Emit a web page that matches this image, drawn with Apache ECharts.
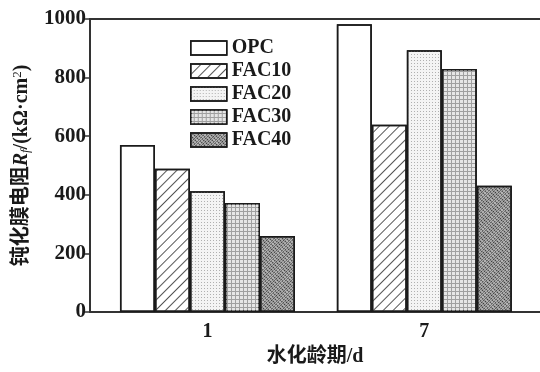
<!DOCTYPE html>
<html>
<head>
<meta charset="utf-8">
<script src="https://cdn.jsdelivr.net/npm/echarts@6/dist/echarts.min.js"></script>
<style>
  html, body { margin: 0; padding: 0; background: #fff; }
  #chart { width: 540px; height: 372px; }
</style>
</head>
<body>
<div id="chart"></div>
<script>
// Hydration age (days) and passive-film resistance Rf (kΩ·cm²)
const ages = [1, 7];
const seriesNames = ['OPC', 'FAC10', 'FAC20', 'FAC30', 'FAC40'];
const opc   = [570, 982];
const fac10 = [489, 639];
const fac20 = [412, 893];
const fac30 = [372, 829];
const fac40 = [259, 431];
const yTicks = [0, 200, 400, 600, 800, 1000];

const serif = '"Liberation Serif", "Times New Roman", "Noto Sans CJK SC", serif';
const ink = '#1a1a1a';

// Fill patterns for each mix
const patterns = {
  OPC:   { color: '#ffffff', decal: null },
  FAC10: { color: '#ffffff', decal: { symbol: 'rect', symbolSize: 1, dashArrayX: [1, 0], dashArrayY: [1, 6], rotation: -Math.PI / 4, color: '#555' } },
  FAC20: { color: '#f4f4f4', decal: { symbol: 'rect', symbolSize: 1, dashArrayX: [1, 2], dashArrayY: [1, 2], color: '#b0b0b0' } },
  FAC30: { color: '#a0a0a0', decal: { symbol: 'rect', symbolSize: 1, dashArrayX: [3, 1], dashArrayY: [3, 1], color: '#e6e6e6' } },
  FAC40: { color: '#b8b8b8', decal: { symbol: 'rect', symbolSize: 1, dashArrayX: [2, 1], dashArrayY: [1, 1], rotation: -Math.PI / 4, color: '#3a3a3a' } }
};

const values = [opc, fac10, fac20, fac30, fac40];

const series = seriesNames.map((name, i) => ({
  name,
  type: 'bar',
  barWidth: 35,
  barGap: '0%',
  data: ages.map((a, j) => [a, values[i][j]]),
  itemStyle: {
    color: patterns[name].color,
    borderColor: ink,
    borderWidth: 1.5,
    decal: patterns[name].decal || { symbol: 'none' }
  },
  emphasis: { disabled: true }
}));

const chart = echarts.init(document.getElementById('chart'), null, { renderer: 'canvas' });
chart.setOption({
  animation: false,
  backgroundColor: '#ffffff',
  aria: { enabled: false, decal: { show: false } },
  grid: { left: 90, top: 19, width: 452, height: 302 },
  legend: {
    orient: 'vertical',
    left: 185,
    top: 33,
    icon: 'rect',
    itemWidth: 36,
    itemHeight: 14,
    itemGap: 3,
    data: seriesNames,
    textStyle: { fontFamily: serif, fontWeight: 'bold', fontSize: 20, color: ink },
    itemStyle: { borderColor: ink, borderWidth: 1.5 }
  },
  xAxis: [{
    type: 'value',
    min: -2.25,
    max: 10.2,
    splitLine: { show: false },
    axisLine: { show: true, onZero: false, lineStyle: { color: '#333', width: 2 } },
    axisTick: { show: false },
    axisLabel: {
      customValues: ages,
      fontFamily: serif, fontWeight: 'bold', fontSize: 20, color: ink, margin: 10
    },
    name: '水化龄期/d',
    nameLocation: 'middle',
    nameGap: 35,
    nameTextStyle: { fontFamily: serif, fontWeight: 'bold', fontSize: 20, color: ink }
  }, {
    type: 'value',
    position: 'top',
    min: -2.25,
    max: 10.2,
    splitLine: { show: false },
    axisLine: { show: true, onZero: false, lineStyle: { color: '#333', width: 2 } },
    axisTick: { show: false },
    axisLabel: { show: false }
  }],
  yAxis: {
    type: 'value',
    min: yTicks[0],
    max: yTicks[yTicks.length - 1],
    interval: 200,
    splitLine: { show: false },
    axisLine: { show: true, onZero: false, lineStyle: { color: '#333', width: 2 } },
    axisTick: { show: true, inside: false, length: 5, lineStyle: { color: '#333', width: 1.5 } },
    axisLabel: {
      formatter: v => String(v),
      fontFamily: serif, fontWeight: 'bold', fontSize: 21, color: ink, margin: 4
    },
    name: '{a|钝化膜电阻}{i|R}{s|f}{a|/(kΩ·cm}{sup|2}{a|)}',
    nameLocation: 'middle',
    nameRotate: 90,
    nameGap: 58,
    nameTextStyle: {
      rich: {
        a: { fontFamily: serif, fontSize: 20, color: ink, fontWeight: 'bold' },
        i: { fontFamily: serif, fontSize: 20, color: ink, fontStyle: 'italic', fontWeight: 'bold' },
        s: { fontFamily: serif, fontSize: 13, color: ink, fontStyle: 'italic', verticalAlign: 'bottom', padding: [8, 0, 0, 0] },
        sup: { fontFamily: serif, fontSize: 13, color: ink, verticalAlign: 'top', padding: [0, 0, 8, 0] }
      }
    }
  },
  series
});
</script>
</body>
</html>
